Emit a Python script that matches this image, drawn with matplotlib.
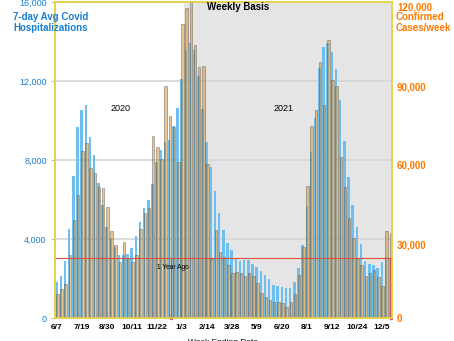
import numpy as np
import matplotlib.pyplot as plt
from matplotlib.transforms import ScaledTranslation

plt.rcParams['font.family'] = ['Liberation Sans', 'DejaVu Sans']

# weekly values, first week ending 6/7/2020
hosp = [1840, 2130, 2900, 4500, 7200, 9690, 10550, 10780, 9180, 8250,
        6820, 5720, 4630, 4030, 3610, 3190, 3190, 3240, 3530, 4150,
        4850, 5560, 5950, 6790, 7900, 8510, 8930, 9010, 9700, 10620,
        12100, 13570, 13940, 13570, 12250, 10570, 8900, 7660, 6430, 5300,
        4460, 3820, 3440, 3020, 2900, 2940, 2940, 2740, 2560, 2390,
        2180, 1970, 1650, 1620, 1590, 1500, 1540, 1840, 2515, 3700,
        5640, 8400, 10110, 12640, 13740, 13910, 13490, 12590, 11040, 8960,
        7150, 5720, 4590, 3750, 2900, 2720, 2670, 2550, 2850, 3090,
        3063]
cases = [9000, 10900, 12800, 23900, 37200, 46600, 63500, 66300, 56800, 55000,
         49600, 49300, 42000, 32900, 27700, 21400, 29000, 22700, 21400, 23900,
         33700, 40000, 41600, 69100, 65100, 60300, 88100, 76700, 72400, 59400,
         111700, 117600, 120100, 103700, 95500, 95800, 58500, 22300, 33400, 25200,
         23300, 20100, 17000, 17600, 17200, 16000, 17000, 16000, 13200, 9400,
         8100, 7000, 6200, 6100, 5700, 4300, 5900, 9000, 16300, 26800,
         50000, 72900, 79000, 97400, 81000, 105400, 90400, 88100, 61300, 49900,
         37900, 30300, 22500, 20100, 15800, 17000, 18200, 15400, 12000, 33000,
         32200]
tick_labels = ['6/7', '7/19', '8/30', '10/11', '11/22', '1/3', '2/14',
               '3/28', '5/9', '6/20', '8/1', '9/12', '10/24', '12/5']
tick_step = 6
weekly_start = 30.6   # start of the shaded "Weekly Basis" part
year_ago = 27.4

hosp_max = 16000
cases_max = 120000
scale = cases_max / hosp_max

blue = '#6ebef0'
tan = '#d28c28'
blue_txt = '#1a7fd0'
orange_txt = '#ff7a00'
yellow = '#e6d24c'
red = '#e0503c'

x = np.arange(len(hosp))

fig = plt.figure(figsize=(4.54, 3.41), dpi=100)
ax = fig.add_axes([55 / 454, 23 / 341, 336.5 / 454, 316 / 341])
ax2 = ax.twinx()

ax.axvspan(weekly_start, 81, color='#e5e5e5', zorder=0, lw=0)
ax.bar(x - 0.32, hosp, width=0.6, align='edge', color=blue, zorder=2)
ax2.bar(x - 0.14, cases, width=0.6, align='edge', color=tan, alpha=0.5,
        edgecolor='#3c3c3c', linewidth=0.5)

ax.set_xlim(-0.4, 80.3)
ax.set_ylim(0, hosp_max)
ax2.set_ylim(0, cases_max)

ax.set_axisbelow(True)
ax.yaxis.grid(True, color='#d6d6d6', lw=1.2)

ax.set_xticks(x[::tick_step][:len(tick_labels)])
ax.set_xticklabels(tick_labels, fontsize=6, fontweight='bold')
ax.tick_params(axis='x', length=0, pad=4)

ax.set_yticks([0, 4000, 8000, 12000, 16000])
ax.set_yticklabels(['0', '4,000', '8,000', '12,000', '16,000'],
                   fontsize=6.5, color=blue_txt)
ax.tick_params(axis='y', length=3, color='#bbbbbb', pad=3)

ax2.set_yticks([0, 30000, 60000, 90000, 120000])
ax2.set_yticklabels(['0', '30,000', '60,000', '90,000', '120,000'],
                    fontsize=7, color=orange_txt, fontweight='bold')
ax2.tick_params(axis='y', length=0, pad=4)
# right labels sit a little below their ticks
shift = ScaledTranslation(0, -0.05, fig.dpi_scale_trans)
for lab in ax2.get_yticklabels()[1:]:
    lab.set_transform(lab.get_transform() + shift)

for a in (ax, ax2):
    for s in a.spines.values():
        s.set_color(yellow)
        s.set_linewidth(1.2)

ax.set_xlabel('Week Ending Date', fontsize=6, labelpad=6)

# current level vs one year ago
now = hosp[-1] * scale
ax2.axhline(now, color=red, lw=0.8)
ax2.plot([year_ago, year_ago], [0, now], color=red, lw=0.8)
ax2.plot([80.25, 80.25], [0, now], color=red, lw=1.2, clip_on=False)
ax2.plot([year_ago, 80.25], [0, 0], 'o', color=red, ms=1.5, clip_on=False)
ax2.text(year_ago + 0.4, now - 3900, '1 Year Ago',
         fontsize=4.8, ha='center', va='center')

ax2.text(15.3, 79500, '2020', fontsize=6.5, ha='center', va='center')
ax2.text(54.5, 79500, '2021', fontsize=6.5, ha='center', va='center')
ax2.text(43.5, 118000, 'Weekly Basis', fontsize=7, fontweight='bold',
         ha='center', va='center')

fig.text(13 / 454, 1 - 12 / 341, '7-day Avg Covid\nHospitalizations',
         fontsize=7, fontweight='bold', color=blue_txt, ha='left', va='top',
         linespacing=1.15)
fig.text(396 / 454, 1 - 12 / 341, 'Confirmed\nCases/week',
         fontsize=7, fontweight='bold', color=orange_txt, ha='left', va='top',
         linespacing=1.15)

fig.savefig('out.png', dpi=100)
